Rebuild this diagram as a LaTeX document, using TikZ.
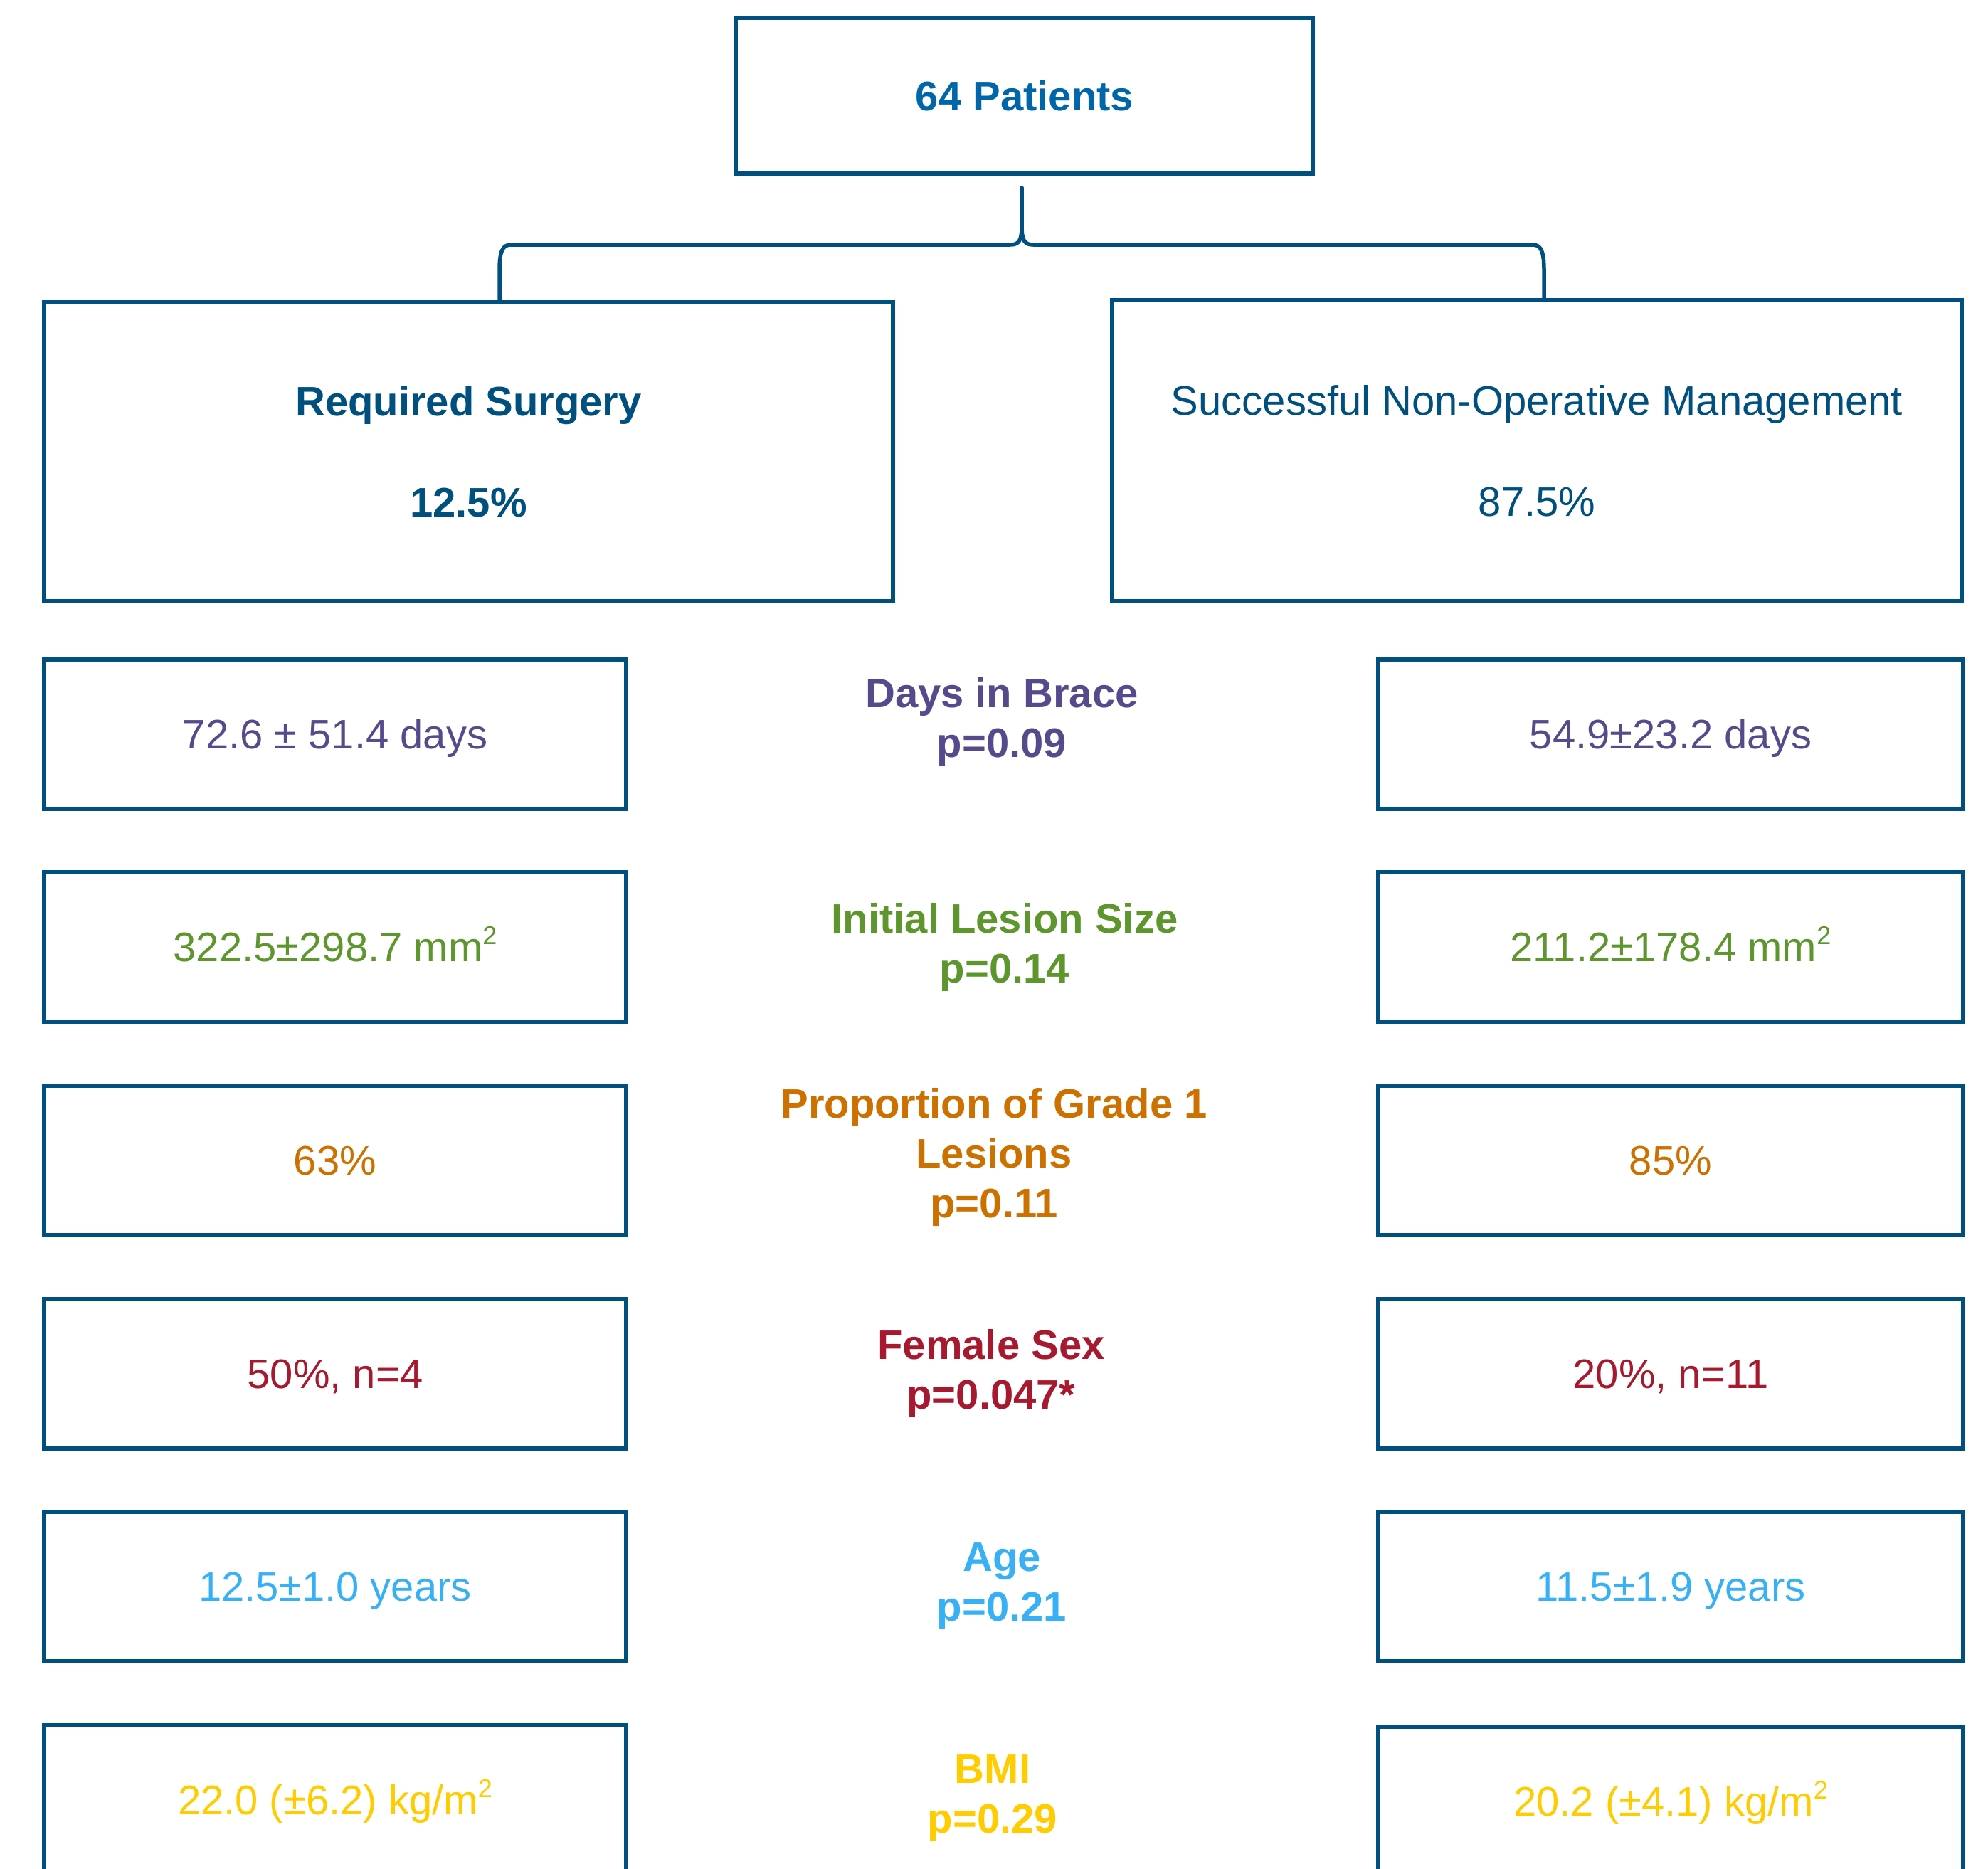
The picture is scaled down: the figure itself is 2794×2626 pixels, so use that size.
\documentclass[tikz,border=0pt]{standalone}
\usepackage{fontspec}
\setmainfont{Liberation Sans}
\definecolor{boxblue}{HTML}{00507F}
\definecolor{toptxt}{HTML}{0066AA}
\definecolor{cpurple}{HTML}{574A8C}
\definecolor{cgreen}{HTML}{5E962E}
\definecolor{corange}{HTML}{CC7000}
\definecolor{cred}{HTML}{A6192E}
\definecolor{clblue}{HTML}{38B0F5}
\definecolor{cyellow}{HTML}{FFCC00}
\newcommand{\supz}{\raisebox{0.42em}{\fontsize{36}{36}\selectfont 2}}
\begin{document}
\begin{tikzpicture}[x=1pt,y=-1pt,
  box/.style={draw=boxblue,line width=5.5pt,inner sep=0pt,align=center,
    font=\fontsize{58}{70}\selectfont},
  rowbox/.style={box,minimum height=210pt,text height=41.5pt,text depth=0pt},
  lbox/.style={rowbox,minimum width=818pt},
  rbox/.style={rowbox,minimum width=822pt},
  lab/.style={inner sep=0pt,align=center,font=\fontsize{58}{70}\selectfont\bfseries},
  conn/.style={draw=boxblue,line width=5.5pt,line cap=round,line join=round}]
\useasboundingbox (0,0) rectangle (2794,2626);
\clip (0,0) rectangle (2794,2626);

\node[box,minimum width=811pt,minimum height=219pt,text=toptxt,font=\fontsize{58}{70}\selectfont\bfseries] (top) at (1440,134.5) {\raisebox{-2pt}{64 Patients}};

\node[box,minimum width=1193pt,minimum height=421pt,text=boxblue,font=\fontsize{58}{70}\selectfont\bfseries] (surg) at (658.5,634.5) {\raisebox{-4pt}{Required Surgery}\\[72pt]\raisebox{-4pt}{12.5\%}};
\node[box,minimum width=1194pt,minimum height=423pt,text=boxblue] (nonop) at (2160,633.5) {\raisebox{-4pt}{Successful Non-Operative Management}\\[72pt]\raisebox{-4pt}{87.5\%}};

\coordinate (tip) at (1436,264);
\coordinate (lend) at (702,422);
\coordinate (rend) at (2170,422);
\draw[conn] (tip) -- (1436,318) .. controls (1436,338) and (1432,344) .. (1420,344)
  -- (718,344) .. controls (706,344) and (702,354) .. (702,380) -- (lend);
\draw[conn] (tip) -- (1436,318) .. controls (1436,338) and (1440,344) .. (1452,344)
  -- (2154,344) .. controls (2166,344) and (2170,354) .. (2170,380) -- (rend);

% Row 1
\node[lbox,text=cpurple] (l1) at (471,1032) {72.6 ± 51.4 days};
\node[rbox,text=cpurple] (r1) at (2348,1032) {54.9±23.2 days};
\node[lab,text=cpurple] (c1) at (1408,1014) {Days in Brace\\p=0.09};
% Row 2
\node[lbox,text=cgreen] (l2) at (471,1331) {322.5±298.7 mm\supz};
\node[rbox,text=cgreen] (r2) at (2348,1331) {211.2±178.4 mm\supz};
\node[lab,text=cgreen] (c2) at (1412,1331) {Initial Lesion Size\\p=0.14};
% Row 3
\node[lbox,text=corange] (l3) at (471,1631) {63\%};
\node[rbox,text=corange] (r3) at (2348,1631) {85\%};
\node[lab,text=corange] (c3) at (1397,1626) {Proportion of Grade 1\\Lesions\\p=0.11};
% Row 4
\node[lbox,text=cred] (l4) at (471,1931) {50\%, n=4};
\node[rbox,text=cred] (r4) at (2348,1931) {20\%, n=11};
\node[lab,text=cred] (c4) at (1393,1930) {Female Sex\\p=0.047*};
% Row 5
\node[lbox,text=clblue] (l5) at (471,2230) {12.5±1.0 years};
\node[rbox,text=clblue] (r5) at (2348,2230) {11.5±1.9 years};
\node[lab,text=clblue] (c5) at (1408,2230) {Age\\p=0.21};
% Row 6
\node[lbox,text=cyellow] (l6) at (471,2530) {22.0 (±6.2) kg/m\supz};
\node[rbox,text=cyellow] (r6) at (2348,2532) {20.2 (±4.1) kg/m\supz};
\node[lab,text=cyellow] (c6) at (1395,2528) {BMI\\p=0.29};
\end{tikzpicture}
\end{document}
